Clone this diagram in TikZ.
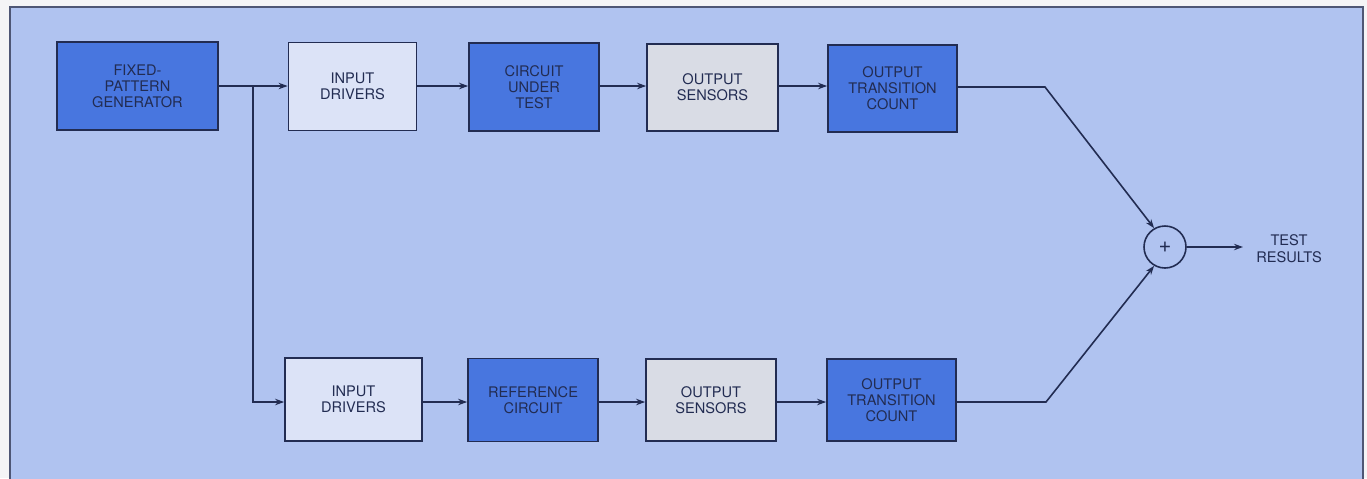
\documentclass[tikz,border=0pt]{standalone}
\usepackage{fontspec}
\setmainfont{TeX Gyre Heros}
\usetikzlibrary{arrows.meta}
\definecolor{panel}{HTML}{B0C3F0}
\definecolor{dark}{HTML}{4876DF}
\definecolor{lightbox}{HTML}{DCE3F7}
\definecolor{greybox}{HTML}{D9DCE5}
\definecolor{ink}{HTML}{222C52}
\definecolor{outside}{HTML}{F4F4F6}
\tikzset{
  blk/.style={draw=ink, line width=0.85pt, inner sep=0pt, align=center,
    font=\fontsize{7.3}{8}\selectfont, text=ink},
  darkblk/.style={blk, fill=dark},
  lightblk/.style={blk, fill=lightbox},
  greyblk/.style={blk, fill=greybox},
  conn/.style={draw=ink, line width=0.8pt},
  arr/.style={conn, -{Stealth[length=4.5pt,width=3.2pt]}},
}
\begin{document}
\begin{tikzpicture}[x=0.5pt, y=-0.5pt]
\useasboundingbox (0,0) rectangle (1367,478);
\fill[outside] (0,0) rectangle (1367,478);
\fill[panel] (10,7) rectangle (1363,480);
\draw[ink!80, line width=0.6pt] (10,480) -- (10,7) -- (1363,7) -- (1363,480);
% top row
\node[darkblk, minimum width=80.5pt, minimum height=44pt] (fpg) at (137.5,86) {FIXED-\\PATTERN\\GENERATOR};
\node[lightblk, minimum width=64pt, minimum height=44pt] (id1) at (352.5,86.5) {INPUT\\DRIVERS};
\node[darkblk, minimum width=65pt, minimum height=44pt] (cut) at (534,87) {CIRCUIT\\UNDER\\TEST};
\node[greyblk, minimum width=65.5pt, minimum height=43.5pt] (os1) at (712.5,87.5) {OUTPUT\\SENSORS};
\node[darkblk, minimum width=64.5pt, minimum height=43.5pt] (otc1) at (892.5,88.5) {OUTPUT\\TRANSITION\\COUNT};
% bottom row
\node[lightblk, minimum width=68.5pt, minimum height=41.5pt] (id2) at (353.5,399.5) {INPUT\\DRIVERS};
\node[darkblk, minimum width=65pt, minimum height=41.5pt] (ref) at (533,400) {REFERENCE\\CIRCUIT};
\node[greyblk, minimum width=65pt, minimum height=41pt] (os2) at (711,400) {OUTPUT\\SENSORS};
\node[darkblk, minimum width=64.5pt, minimum height=41pt] (otc2) at (891.5,400) {OUTPUT\\TRANSITION\\COUNT};
% summing junction
\node[draw=ink, line width=0.8pt, circle, minimum size=21pt, inner sep=0pt, text=ink, font=\fontsize{11}{12}\selectfont] (sum) at (1165,247) {+};
\node[align=center, text=ink, font=\fontsize{7.3}{8.5}\selectfont] (res) at (1289,249) {TEST\\RESULTS};
% connectors
\coordinate (split) at (253,86);
\coordinate (c1) at (1045,87);
\coordinate (c2) at (1046,402);
\draw[arr] (fpg.east |- split) -- (id1.west |- split);
\draw[arr] (split) |- (id2.west |- 0,402);
\draw[arr] (id1.east |- 0,86) -- (cut.west |- 0,86);
\draw[arr] (cut.east |- 0,86) -- (os1.west |- 0,86);
\draw[arr] (os1.east |- 0,86) -- (otc1.west |- 0,86);
\draw[arr] (id2.east |- 0,402) -- (ref.west |- 0,402);
\draw[arr] (ref.east |- 0,402) -- (os2.west |- 0,402);
\draw[arr] (os2.east |- 0,402) -- (otc2.west |- 0,402);
\draw[arr] (otc1.east |- c1) -- (c1) -- (sum.120);
\draw[arr] (otc2.east |- c2) -- (c2) -- (sum.-120);
\draw[arr] (sum.east) -- (1243,247);
\end{tikzpicture}
\end{document}
